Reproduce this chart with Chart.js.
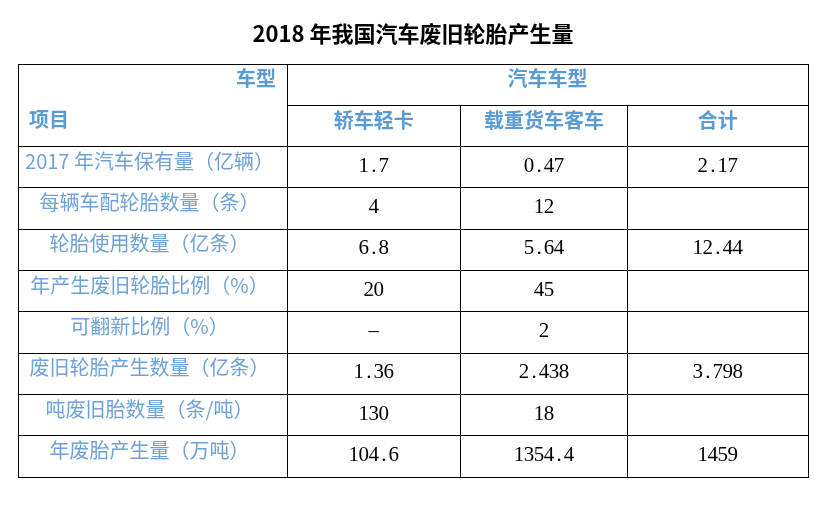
<!DOCTYPE html>
<html>
<head>
<meta charset="utf-8">
<script src="https://cdn.jsdelivr.net/npm/chart.js@4.4.1/dist/chart.umd.min.js"></script>
<style>
  html, body { margin: 0; padding: 0; background: #ffffff; }
  #wrap { width: 827px; height: 517px; position: relative; }
</style>
</head>
<body>
<div id="wrap"><canvas id="c" width="827" height="517"></canvas></div>
<script>
// ---- data ----
const titleText = '2018 年我国汽车废旧轮胎产生量';
const cornerTop = '车型';
const cornerBottom = '项目';
const groupHeader = '汽车车型';
const columnHeaders = ['轿车轻卡', '载重货车客车', '合计'];
const rowLabels = [
  '2017 年汽车保有量（亿辆）',
  '每辆车配轮胎数量（条）',
  '轮胎使用数量（亿条）',
  '年产生废旧轮胎比例（%）',
  '可翻新比例（%）',
  '废旧轮胎产生数量（亿条）',
  '吨废旧胎数量（条/吨）',
  '年废胎产生量（万吨）'
];
const sedanLightTruck = ['1.7', '4', '6.8', '20', '–', '1.36', '130', '104.6'];
const heavyTruckBus   = ['0.47', '12', '5.64', '45', '2', '2.438', '18', '1354.4'];
const totals          = ['2.17', '', '12.44', '', '', '3.798', '', '1459'];

// ---- layout (scale units) ----
const colEdges = [0, 269, 442.5, 609.5, 790];
const colCenter = i => (colEdges[i] + colEdges[i + 1]) / 2;
const LABEL_COLOR = '#6ea2d8';
const HEAD_COLOR = '#5b9bd5';
const CJK = '"Noto Sans CJK SC", "Noto Sans", sans-serif';

function pts(col) {
  return rowLabels.map((_, r) => ({ x: colCenter(col), y: r + 0.5 }));
}

const columnsText = [rowLabels, sedanLightTruck, heavyTruckBus, totals];

const tablePlugin = {
  id: 'tablePlugin',
  afterDraw(chart) {
    const ctx = chart.ctx;
    const xs = chart.scales.x, ys = chart.scales.y;
    const al = p => Math.round(p - 0.5) + 0.5;
    ctx.save();
    // partial lines and right border
    ctx.strokeStyle = '#000';
    ctx.lineWidth = 1;
    ctx.beginPath();
    const yMid = al(ys.getPixelForValue(-1));
    const yTop = al(ys.getPixelForValue(-2));
    const yBot = al(ys.getPixelForValue(8));
    ctx.moveTo(xs.getPixelForValue(colEdges[1]), yMid);
    ctx.lineTo(xs.getPixelForValue(colEdges[4]), yMid);
    [2, 3].forEach(i => {
      const x = al(xs.getPixelForValue(colEdges[i]));
      ctx.moveTo(x, yMid);
      ctx.lineTo(x, yBot);
    });
    const xr = al(xs.getPixelForValue(colEdges[4]));
    ctx.moveTo(xr, yTop - 0.5);
    ctx.lineTo(xr, yBot + 0.5);
    ctx.stroke();

    // headers
    ctx.textBaseline = 'middle';
    ctx.fillStyle = HEAD_COLOR;
    ctx.font = 'bold 20px ' + CJK;
    ctx.textAlign = 'right';
    ctx.fillText(cornerTop, xs.getPixelForValue(colEdges[1]) - 11, ys.getPixelForValue(-1.5) - 6);
    ctx.textAlign = 'left';
    ctx.fillText(cornerBottom, xs.getPixelForValue(0) + 11, ys.getPixelForValue(-0.5) - 7);
    ctx.textAlign = 'center';
    ctx.fillText(groupHeader, xs.getPixelForValue((colEdges[1] + colEdges[4]) / 2), ys.getPixelForValue(-1.5) - 6);
    columnHeaders.forEach((h, i) => {
      ctx.fillText(h, xs.getPixelForValue(colCenter(i + 1)), ys.getPixelForValue(-0.5) - 6);
    });

    // cells from dataset elements
    chart.data.datasets.forEach((ds, di) => {
      const meta = chart.getDatasetMeta(di);
      const texts = columnsText[di];
      meta.data.forEach((el, ri) => {
        const t = texts[ri];
        if (!t) return;
        if (di === 0) {
          ctx.fillStyle = LABEL_COLOR;
          ctx.font = '20px ' + CJK;
          ctx.textAlign = 'center';
          ctx.fillText(t, el.x - 3, el.y - 6);
        } else {
          ctx.fillStyle = '#000';
          ctx.font = '21px "Liberation Serif", serif';
          ctx.textAlign = 'center';
          const adv = 10;
          const w = t.length * adv;
          let x0 = el.x - w / 2 + adv / 2;
          for (const ch of t) {
            ctx.fillText(ch, x0, el.y - 1);
            x0 += adv;
          }
        }
      });
    });
    ctx.restore();
  }
};

new Chart(document.getElementById('c'), {
  type: 'scatter',
  data: {
    datasets: columnsText.map((_, i) => ({
      label: i === 0 ? '项目' : columnHeaders[i - 1],
      data: pts(i),
      pointRadius: 0,
      pointHoverRadius: 0
    }))
  },
  options: {
    responsive: false,
    animation: false,
    events: [],
    layout: { padding: { left: 18, right: 19, top: 0, bottom: 40 } },
    plugins: {
      legend: { display: false },
      tooltip: { enabled: false },
      title: {
        display: true,
        text: titleText,
        color: '#000',
        font: { family: CJK, size: 22, weight: 'bold', lineHeight: 1.2 },
        padding: { top: 20, bottom: 17.6 }
      }
    },
    scales: {
      x: {
        type: 'linear', min: colEdges[0], max: colEdges[4],
        afterBuildTicks: s => { s.ticks = [colEdges[0], colEdges[1], colEdges[4]].map(v => ({ value: v })); },
        ticks: { display: false },
        grid: { color: '#000', lineWidth: 1, drawTicks: false },
        border: { display: false }
      },
      y: {
        type: 'linear', min: -2, max: 8, reverse: true,
        afterBuildTicks: s => { s.ticks = [-2, 0, 1, 2, 3, 4, 5, 6, 7, 8].map(v => ({ value: v })); },
        ticks: { display: false },
        grid: { color: '#000', lineWidth: 1, drawTicks: false },
        border: { display: false }
      }
    }
  },
  plugins: [tablePlugin]
});
</script>
</body>
</html>
